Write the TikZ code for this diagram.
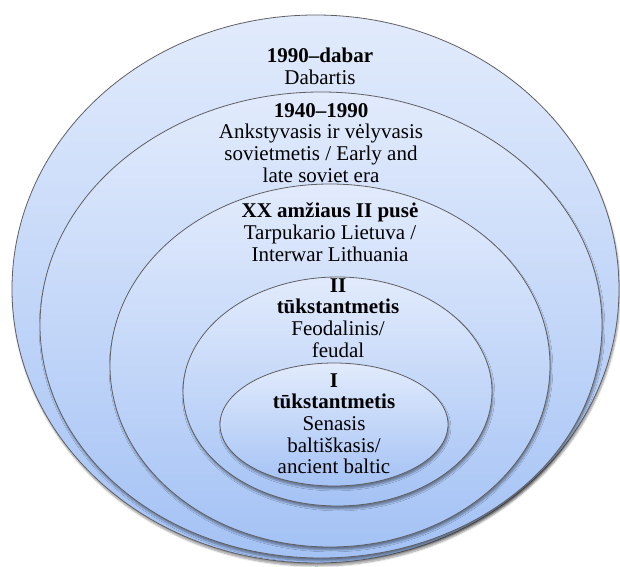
\documentclass[tikz,border=0pt]{standalone}
\usepackage{fontspec}
\setmainfont{Liberation Serif}
\usetikzlibrary{shapes.geometric,shadows.blur}
\definecolor{topblue}{RGB}{226,235,252}
\definecolor{botblue}{RGB}{164,194,245}
\definecolor{edgegray}{RGB}{95,95,100}
\begin{document}
\begin{tikzpicture}[x=1pt,y=1pt,
  ring/.style={ellipse, draw=edgegray, line width=0.8pt, top color=topblue, bottom color=botblue,
    inner sep=0pt, blur shadow={shadow xshift=1pt, shadow yshift=-3pt, shadow blur steps=6, shadow opacity=40}},
  ringtext/.style={align=center, font=\fontsize{21}{21.7}\selectfont, inner sep=0pt, anchor=base}]
\useasboundingbox (0,0) rectangle (620,566);
\node[ring, minimum width=607pt, minimum height=548pt] (r5) at (315.5,277) {};
\node[ring, minimum width=562pt, minimum height=466pt] (r4) at (321,241) {};
\node[ring, minimum width=440pt, minimum height=363pt] (r3) at (330,200.5) {};
\node[ring, minimum width=309pt, minimum height=229pt] (r2) at (337.5,174.5) {};
\node[ring, minimum width=228pt, minimum height=123pt] (r1) at (334,141.5) {};
\node[ringtext] (t5) at (320,481.3) {\textbf{1990–dabar}\\Dabartis};
\node[ringtext] (t4) at (321,383.9) {\textbf{1940–1990}\\Ankstyvasis ir vėlyvasis\\sovietmetis / Early and\\late soviet era};
\node[ringtext] (t3) at (330,305) {\textbf{XX amžiaus II pusė}\\Tarpukario Lietuva /\\Interwar Lithuania};
\node[ringtext] (t2) at (338,208.9) {\textbf{II}\\\textbf{tūkstantmetis}\\Feodalinis/\\feudal};
\node[ringtext] (t1) at (334,92.2) {\textbf{I}\\\textbf{tūkstantmetis}\\Senasis\\baltiškasis/\\ancient baltic};
\end{tikzpicture}
\end{document}
